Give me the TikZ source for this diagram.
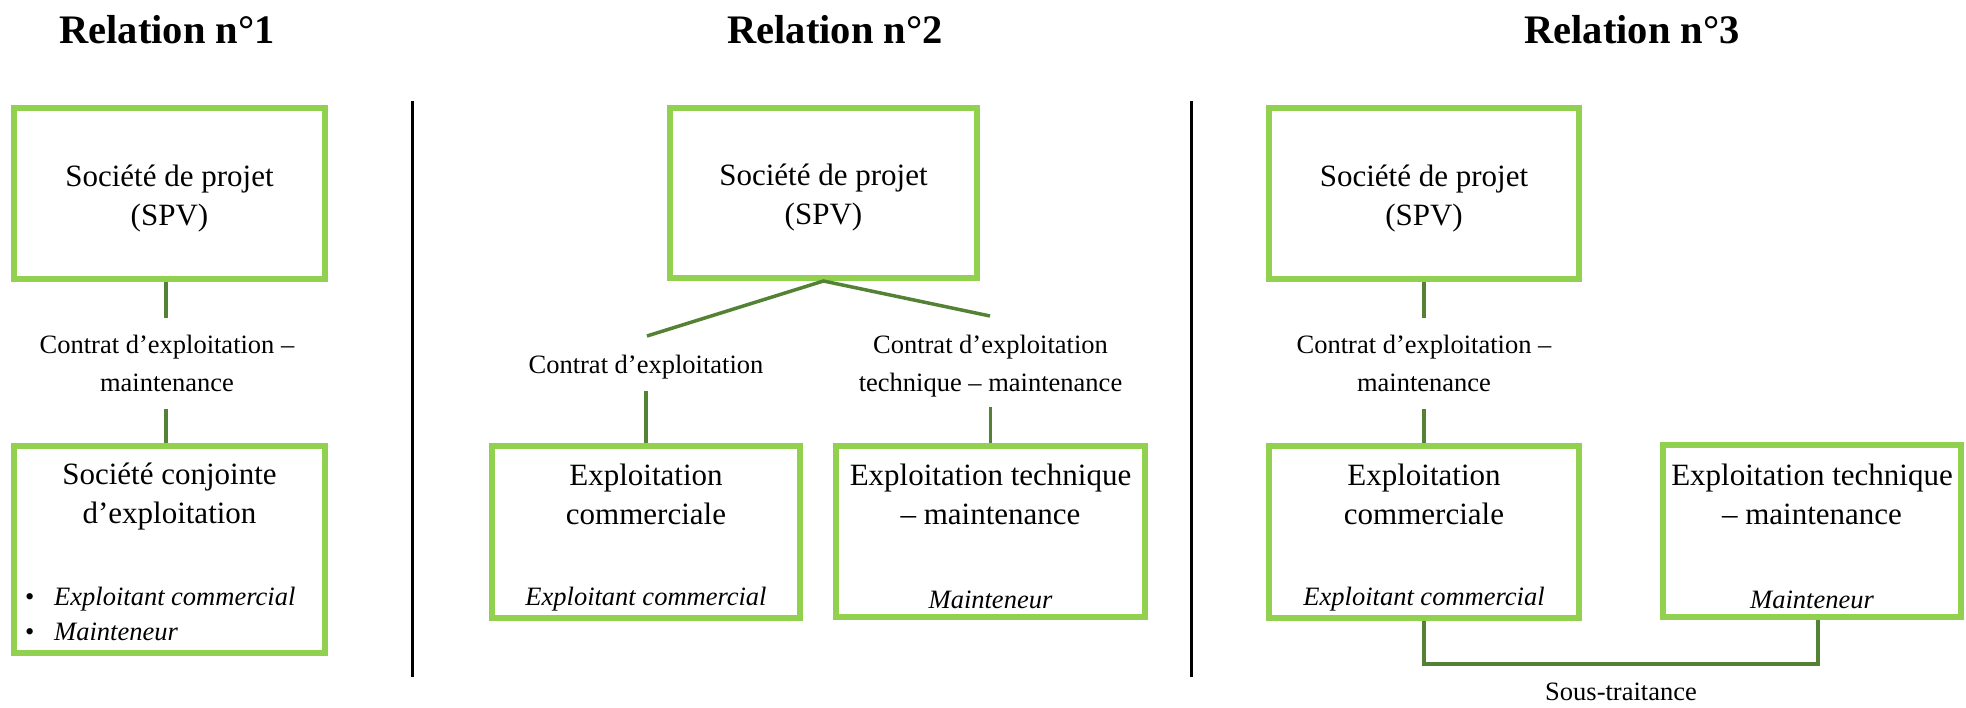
\documentclass[tikz,border=0pt]{standalone}
\usepackage{fontspec}
\setmainfont{Liberation Serif}
\definecolor{boxgreen}{HTML}{92D050}
\definecolor{linegreen}{HTML}{548235}
\begin{document}
\begin{tikzpicture}[x=1pt,y=-1pt,
  box/.style={draw=boxgreen,line width=6pt,inner sep=0pt},
  body/.style={inner sep=0pt,align=center,font=\fontsize{31}{39}\selectfont},
  lbl/.style={inner sep=0pt,align=center,font=\fontsize{26.5}{38}\selectfont},
  itl/.style={inner sep=0pt,align=center,font=\fontsize{26.5}{35}\selectfont\itshape},
  ttl/.style={inner sep=0pt,font=\fontsize{40.5}{48}\selectfont\bfseries},
  conn/.style={draw=linegreen,line width=3.5pt},
  divider/.style={draw=black,line width=3pt}]
\useasboundingbox (0,0) rectangle (1966,708);

% titles
\node[ttl] (t1) at (167,30) {Relation n°1};
\node[ttl] (t2) at (835,30) {Relation n°2};
\node[ttl] (t3) at (1632,30) {Relation n°3};

% dividers
\coordinate (d1a) at (412,101); \coordinate (d1b) at (412,677);
\coordinate (d2a) at (1191,101); \coordinate (d2b) at (1191,677);
\draw[divider] (d1a) -- (d1b);
\draw[divider] (d2a) -- (d2b);

% ---------- Relation 1 ----------
\coordinate (r1a) at (166,318);
\coordinate (r1b) at (166,409);
\node[lbl] (l1) at (167,363) {Contrat d’exploitation –\\maintenance};
\draw[conn] (r1a |- 0,279) -- (r1a);
\draw[conn] (r1b) -- (r1b |- 0,446);
\node[box,minimum width=311pt,minimum height=171pt] (sp1) at (169.5,193.5) {};
\node[body] (sp1t) at (169.5,198.5) {Société de projet\\(SPV)};
\node[box,minimum width=311pt,minimum height=207pt] (b1) at (169.5,549.5) {};
\node[body] (b1t) at (169.5,497) {Société conjointe\\d’exploitation};
\node[inner sep=0pt,anchor=west,align=left,font=\fontsize{26.5}{35}\selectfont\itshape] (b1l) at (25,614)
  {\makebox[29pt][l]{\upshape •}Exploitant commercial\\\makebox[29pt][l]{\upshape •}Mainteneur};

% ---------- Relation 2 ----------
\coordinate (r2l) at (647,336);
\coordinate (r2r) at (990,316);
\coordinate (r2lb) at (646,391);
\coordinate (r2rb) at (990.5,407);
\node[lbl] (l2a) at (646,367) {Contrat d’exploitation};
\node[lbl] (l2b) at (990.5,366) {Contrat d’exploitation\\technique – maintenance};
\node[box,minimum width=307pt,minimum height=170pt] (sp2) at (823.5,193) {};
\node[body] (sp2t) at (823.5,198) {Société de projet\\(SPV)};
\node[box,minimum width=308pt,minimum height=172pt] (b2l) at (646,532) {};
\node[box,minimum width=309pt,minimum height=171pt] (b2r) at (990.5,531.5) {};
\draw[conn] (r2l) -- (sp2.south) -- (r2r);
\draw[conn] (r2lb) -- (b2l.north);
\draw[conn] (r2rb) -- (b2r.north);
\node[body] (b2lt) at (646,494) {Exploitation\\commerciale};
\node[itl] (b2li) at (646,599) {Exploitant commercial};
\node[body] (b2rt) at (990.5,494) {Exploitation technique\\– maintenance};
\node[itl] (b2ri) at (990.5,600) {Mainteneur};

% ---------- Relation 3 ----------
\coordinate (r3a) at (1424,318);
\coordinate (r3b) at (1424,409);
\coordinate (stR) at (1818,664);
\node[lbl] (l3) at (1424,363) {Contrat d’exploitation –\\maintenance};
\node[box,minimum width=310pt,minimum height=171pt] (sp3) at (1424,193.5) {};
\node[body] (sp3t) at (1424,198.5) {Société de projet\\(SPV)};
\node[box,minimum width=310pt,minimum height=172pt] (b3l) at (1424,532) {};
\node[box,minimum width=298pt,minimum height=172pt] (b3r) at (1812,531) {};
\draw[conn] (sp3.south) -- (r3a);
\draw[conn] (r3b) -- (b3l.north);
\draw[conn] (b3l.south) |- (stR) -- (stR |- b3r.south);
\node[body] (b3lt) at (1424,494) {Exploitation\\commerciale};
\node[itl] (b3li) at (1424,599) {Exploitant commercial};
\node[body] (b3rt) at (1812,494) {Exploitation technique\\– maintenance};
\node[itl] (b3ri) at (1812,600) {Mainteneur};
\node[lbl] (st) at (1621,692) {Sous-traitance};
\end{tikzpicture}
\end{document}
